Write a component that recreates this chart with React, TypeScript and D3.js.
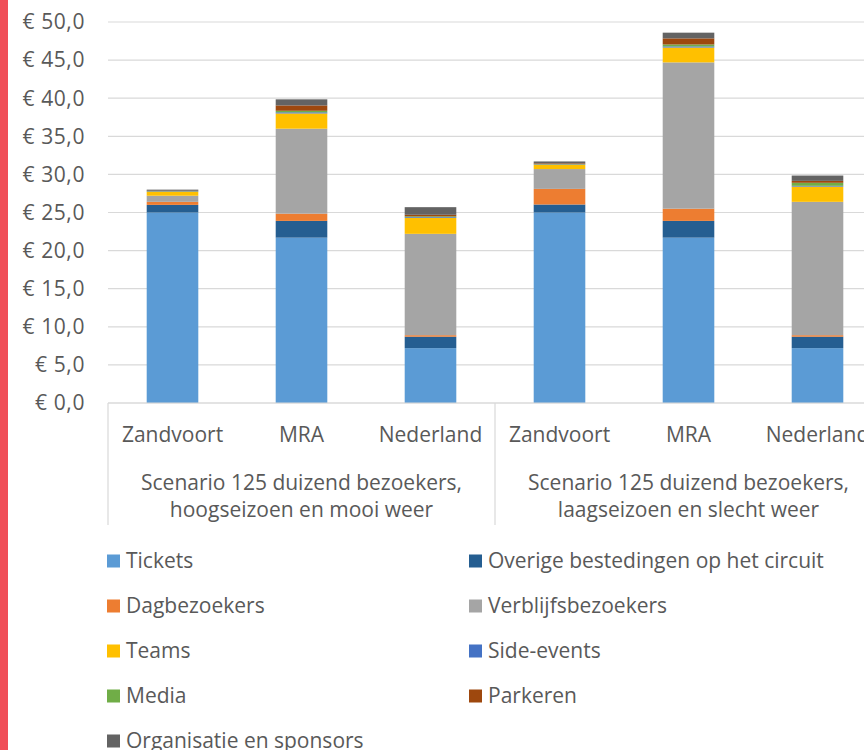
import React from "react";
import * as d3 from "d3";

const categories = ["Zandvoort", "MRA", "Nederland", "Zandvoort", "MRA", "Nederland"];
const groupLabels = [
  ["Scenario 125 duizend bezoekers,", "hoogseizoen en mooi weer"],
  ["Scenario 125 duizend bezoekers,", "laagseizoen en slecht weer"],
];
const seriesNames = [
  "Tickets",
  "Overige bestedingen op het circuit",
  "Dagbezoekers",
  "Verblijfsbezoekers",
  "Teams",
  "Side-events",
  "Media",
  "Parkeren",
  "Organisatie en sponsors",
];
const seriesColors = [
  "#5B9BD5",
  "#255E91",
  "#ED7D31",
  "#A5A5A5",
  "#FFC000",
  "#4472C4",
  "#70AD47",
  "#9E480E",
  "#636363",
];
const tickets = [25.0, 21.7, 7.2, 25.0, 21.7, 7.2];
const overige = [1.0, 2.2, 1.5, 1.05, 2.2, 1.5];
const dagbezoekers = [0.4, 0.95, 0.2, 2.05, 1.6, 0.2];
const verblijfsbezoekers = [0.8, 11.15, 13.3, 2.6, 19.2, 17.5];
const teams = [0.5, 2.0, 2.1, 0.55, 1.95, 2.0];
const sideEvents = [0.05, 0.15, 0.1, 0.05, 0.15, 0.1];
const media = [0.05, 0.2, 0.1, 0.05, 0.25, 0.4];
const parkeren = [0.05, 0.7, 0.2, 0.1, 0.8, 0.25];
const organisatie = [0.15, 0.8, 1.0, 0.25, 0.75, 0.7];
const yTicks = [0, 5, 10, 15, 20, 25, 30, 35, 40, 45, 50];

const seriesValues = [
  tickets,
  overige,
  dagbezoekers,
  verblijfsbezoekers,
  teams,
  sideEvents,
  media,
  parkeren,
  organisatie,
];

const W = 864;
const H = 750;
const FONT = "'Open Sans', 'Noto Sans', sans-serif";
const TEXT = "#595959";
const GRID = "#D9D9D9";
const FS = 21;

export default function App() {
  const plotLeft = 108;
  const plotRight = 882;
  const x = d3
    .scaleBand<number>()
    .domain(categories.map((_, i) => i))
    .range([plotLeft, plotRight])
    .paddingInner(0.6)
    .paddingOuter(0.3);
  const y = d3.scaleLinear().domain([0, 50]).range([403, 22]);

  const rows = categories.map((_, i) => {
    const r: Record<string, number> = {};
    seriesNames.forEach((s, k) => (r[s] = seriesValues[k][i]));
    return r;
  });
  const stacked = d3.stack<Record<string, number>>().keys(seriesNames)(rows);

  const step = x.step();
  const groupWidth = step * 3;
  const bottomY = 525;

  const fmt = (v: number) => "€ " + v.toFixed(1).replace(".", ",");

  const legendCols = [107, 469];
  const legendRow0 = 561;
  const legendRowStep = 45;

  return (
    <svg
      width={W}
      height={H}
      style={{ position: "absolute", left: 0, top: 0, background: "#fff" }}
      fontFamily={FONT}
    >
      <rect x={0} y={0} width={W} height={H} fill="#ffffff" />
      <rect x={0} y={0} width={8} height={H} fill="#F04E58" />

      {yTicks.map((t) => (
        <line
          key={"g" + t}
          x1={plotLeft}
          x2={W}
          y1={y(t)}
          y2={y(t)}
          stroke={GRID}
          strokeWidth={1.2}
        />
      ))}
      {yTicks.map((t) => (
        <text
          key={"t" + t}
          x={85}
          y={y(t)}
          dy="0.35em"
          textAnchor="end"
          fontSize={FS}
          fill={TEXT}
          letterSpacing={0.6}
        >
          {fmt(t)}
        </text>
      ))}

      {stacked.map((layer, k) => (
        <g key={"s" + k} fill={seriesColors[k]}>
          {layer.map((d, i) => (
            <rect
              key={i}
              x={x(i)}
              width={x.bandwidth()}
              y={y(d[1])}
              height={Math.max(0, y(d[0]) - y(d[1]))}
            />
          ))}
        </g>
      ))}

      <line x1={plotLeft} x2={W} y1={y(0)} y2={y(0)} stroke={GRID} strokeWidth={1.2} />
      {[0, 1, 2].map((g) => (
        <line
          key={"v" + g}
          x1={plotLeft + g * groupWidth}
          x2={plotLeft + g * groupWidth}
          y1={y(0)}
          y2={bottomY}
          stroke={GRID}
          strokeWidth={1.2}
        />
      ))}
      {categories.map((c, i) => (
        <text
          key={"c" + i}
          x={(x(i) as number) + x.bandwidth() / 2}
          y={442}
          textAnchor="middle"
          fontSize={FS}
          fill={TEXT}
        >
          {c}
        </text>
      ))}
      {groupLabels.map((lines, g) =>
        lines.map((ln, j) => (
          <text
            key={"gl" + g + j}
            x={plotLeft + g * groupWidth + groupWidth / 2}
            y={490 + j * 27}
            textAnchor="middle"
            fontSize={FS}
            fill={TEXT}
          >
            {ln}
          </text>
        ))
      )}

      {seriesNames.map((s, k) => {
        const col = k % 2;
        const row = Math.floor(k / 2);
        const lx = legendCols[col];
        const ly = legendRow0 + row * legendRowStep;
        return (
          <g key={"l" + k}>
            <rect x={lx} y={ly - 6.5} width={13} height={13} fill={seriesColors[k]} />
            <text x={lx + 19} y={ly} dy="0.35em" fontSize={FS} fill={TEXT}>
              {s}
            </text>
          </g>
        );
      })}
    </svg>
  );
}
